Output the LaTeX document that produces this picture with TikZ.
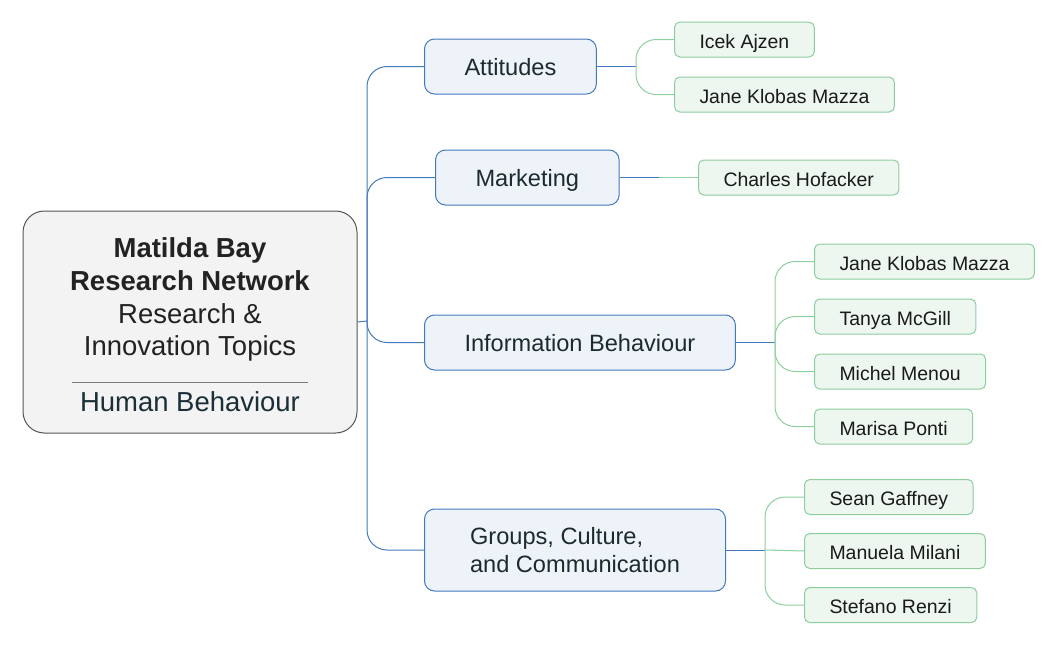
\documentclass[tikz,border=0pt]{standalone}
\usepackage{fontspec}
\setsansfont{Liberation Sans}
\usetikzlibrary{positioning}

\definecolor{rootfill}{HTML}{F3F3F3}
\definecolor{rootline}{HTML}{555555}
\definecolor{rootink}{HTML}{222222}
\definecolor{hbink}{HTML}{1B2F38}
\definecolor{rulegrey}{HTML}{7A7A7A}
\definecolor{topicfill}{HTML}{EEF3FA}
\definecolor{topicline}{HTML}{4279BF}
\definecolor{topicink}{HTML}{1C2B2B}
\definecolor{personfill}{HTML}{EDF6EF}
\definecolor{personline}{HTML}{8DCE9E}
\definecolor{personink}{HTML}{1A1A1A}

\begin{document}
\begin{tikzpicture}[font=\sffamily,x=0.75pt,y=-0.75pt,
centre/.style={draw=rootline,fill=rootfill,rounded corners=16pt,line width=0.75pt,minimum width=250.5pt,minimum height=166.5pt,align=center,text=rootink,font=\sffamily\fontsize{20.6}{24.6}\selectfont},
topic/.style={draw=topicline,fill=topicfill,rounded corners=7.5pt,line width=0.75pt,minimum height=41.25pt,inner xsep=30pt,text height=13.8pt,text depth=0pt,text=topicink,font=\sffamily\fontsize{17.7}{21}\selectfont},
person/.style={draw=personline,fill=personfill,rounded corners=4pt,line width=0.75pt,minimum height=26.25pt,inner xsep=18.75pt,text height=13.2pt,text depth=0pt,text=personink,font=\sffamily\fontsize{14.6}{17}\selectfont},
tlink/.style={topicline,line width=0.75pt,rounded corners=15pt},
plink/.style={personline,line width=0.75pt,rounded corners=15pt}]
\useasboundingbox (0,0) rectangle (1058,644);

% centre topic
\node[centre] (mbrn) at (190,322) {\rule{0pt}{19pt}\textbf{Matilda Bay}\\\textbf{Research Network}\\Research \&\\Innovation Topics\\[-4.6pt]\textcolor{rulegrey}{\rule{177pt}{0.5pt}}\\[-2.85pt]\textcolor{hbink}{Human Behaviour}};
\coordinate (hub) at (367,321);

% topics
\node[topic,anchor=west] (att) at (424,66.5) {Attitudes};
\node[topic,anchor=west] (mkt) at (435,177.5) {Marketing};
\node[topic,anchor=west] (info) at (424,342.5) {Information Behaviour};
\node[topic,anchor=west,minimum width=225.75pt,minimum height=61.5pt,align=left,text height=,text depth=,font=\sffamily\fontsize{17.7}{20.8}\selectfont] (grp) at (424,550) {\raisebox{-1pt}{Groups, Culture,}\\\raisebox{-1pt}{and Communication}};

\draw[tlink] (mbrn.east) -- (hub);
\draw[tlink] (hub) |- (att.west);
\draw[tlink] (hub) |- (mkt.west);
\draw[tlink] (hub) |- (info.west);
\draw[tlink] (hub) |- (grp.west);

% people: attitudes
\node[person,anchor=west] (ajzen) at (674,39.5) {Icek Ajzen};
\node[person,below=14.25pt of ajzen.south west,anchor=north west] (klobasA) {Jane Klobas Mazza};
\coordinate (attfork) at (636,66.5);
\draw[tlink] (att.east) -- (attfork);
\draw[plink] (attfork) |- (ajzen.west);
\draw[plink] (attfork) |- (klobasA.west);

% people: marketing
\node[person,anchor=west] (hofacker) at (698,177.5) {Charles Hofacker};
\coordinate (mktfork) at (659,177.5);
\draw[tlink] (mkt.east) -- (mktfork);
\draw[plink] (mktfork) -- (hofacker.west);

% people: information behaviour
\node[person,anchor=west] (klobasB) at (814,261.5) {Jane Klobas Mazza};
\node[person,below=14.25pt of klobasB.south west,anchor=north west] (mcgill) {Tanya McGill};
\node[person,below=14.25pt of mcgill.south west,anchor=north west] (menou) {Michel Menou};
\node[person,below=14.25pt of menou.south west,anchor=north west] (ponti) {Marisa Ponti};
\coordinate (infofork) at (775,342.5);
\draw[tlink] (info.east) -- (infofork);
\foreach \who in {klobasB,mcgill,menou,ponti}
  \draw[plink] (infofork) |- (\who.west);

% people: groups, culture, communication
\node[person,anchor=west] (gaffney) at (804,497) {Sean Gaffney};
\node[person,below=13.5pt of gaffney.south west,anchor=north west] (milani) {Manuela Milani};
\node[person,below=13.5pt of milani.south west,anchor=north west] (renzi) {Stefano Renzi};
\coordinate (grpfork) at (765,550);
\draw[tlink] (grp.east) -- (grpfork);
\draw[plink] (grpfork) |- (gaffney.west);
\draw[plink] (grpfork) -- (milani.west);
\draw[plink] (grpfork) |- (renzi.west);
\end{tikzpicture}
\end{document}
